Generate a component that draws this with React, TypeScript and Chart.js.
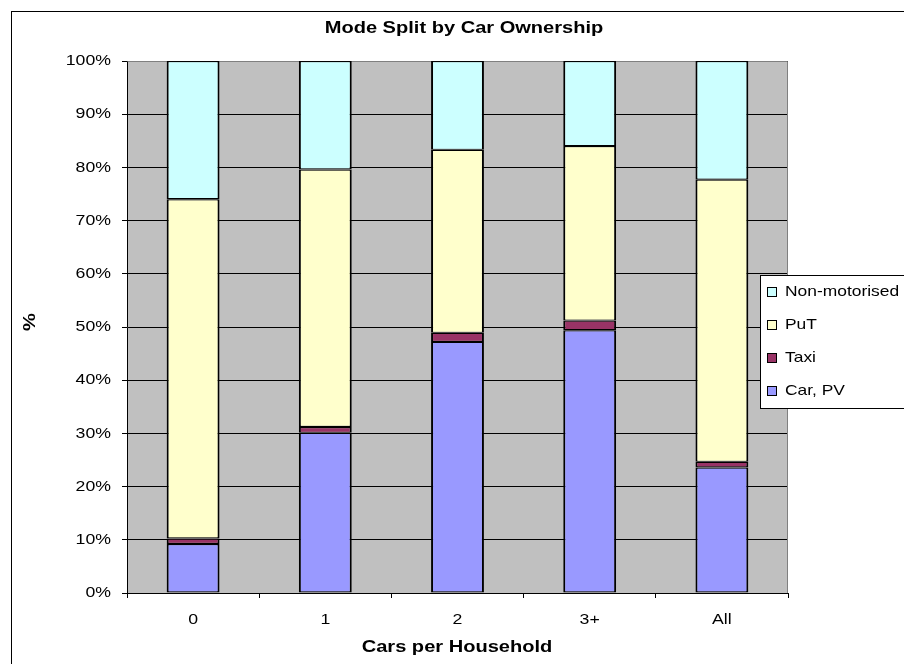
import React, { useEffect, useRef } from 'react';
import { Chart, registerables } from 'chart.js';

Chart.register(...registerables);

const categories = ['0', '1', '2', '3+', 'All'];
const carPV = [9.2, 30.1, 47.2, 49.4, 23.6];
const taxi = [1.05, 1.1, 1.7, 1.8, 1.05];
const puT = [63.75, 48.4, 34.4, 32.8, 53.05];
const nonMotorised = [26.0, 20.4, 16.7, 16.0, 22.3];
const seriesNames = ['Car, PV', 'Taxi', 'PuT', 'Non-motorised'];
const seriesColors = ['#9999FF', '#993366', '#FFFFCC', '#CCFFFF'];
const yTickStep = 10;
const yMax = 100;
const chartTitle = 'Mode Split by Car Ownership';
const xTitle = 'Cars per Household';
const yTitle = '%';

const FONT = '"Liberation Sans", Arial, sans-serif';
const SX = 1.18;

function stretchText(
  ctx: CanvasRenderingContext2D,
  text: string,
  x: number,
  y: number,
  font: string,
  align: CanvasTextAlign,
  rot = 0,
  sx = SX
) {
  ctx.save();
  ctx.translate(x, y);
  if (rot) ctx.rotate(rot);
  ctx.scale(sx, 1);
  ctx.font = font;
  ctx.fillStyle = '#000';
  ctx.textAlign = align;
  ctx.textBaseline = 'middle';
  ctx.fillText(text, 0, 0);
  ctx.restore();
}

const decorPlugin = {
  id: 'decor',
  beforeDraw(chart: any) {
    const { ctx, chartArea: a } = chart;
    ctx.save();
    ctx.fillStyle = '#fff';
    ctx.fillRect(0, 0, chart.width, chart.height);
    ctx.fillStyle = '#C0C0C0';
    ctx.fillRect(a.left, a.top, a.right - a.left, a.bottom - a.top);
    ctx.restore();
  },
  beforeDatasetsDraw(chart: any) {
    const { ctx, chartArea: a } = chart;
    ctx.save();
    ctx.strokeStyle = '#808080';
    ctx.lineWidth = 1;
    ctx.beginPath();
    ctx.moveTo(Math.round(a.left) + 0.5, Math.round(a.top) + 0.5);
    ctx.lineTo(Math.round(a.right) - 0.5, Math.round(a.top) + 0.5);
    ctx.lineTo(Math.round(a.right) - 0.5, Math.round(a.bottom));
    ctx.stroke();
    ctx.restore();
  },
  afterDraw(chart: any) {
    const { ctx } = chart;
    ctx.save();
    ctx.strokeStyle = '#000';
    ctx.lineWidth = 1;
    ctx.strokeRect(11.5, 11.5, 1200, 1200);
    ctx.restore();

    stretchText(ctx, chartTitle, 464, 28, `bold 17px ${FONT}`, 'center');
    stretchText(ctx, xTitle, 457, 647, `bold 17px ${FONT}`, 'center');
    stretchText(ctx, yTitle, 30, 322, `bold 17px ${FONT}`, 'center', -Math.PI / 2);

    const ys = chart.scales.y;
    ys.ticks.forEach((t: any) => {
      const y = ys.getPixelForValue(t.value);
      const label = t.label ?? `${t.value}%`;
      stretchText(ctx, String(label), 111, y, `15px ${FONT}`, 'right');
    });
    const xs = chart.scales.x;
    xs.ticks.forEach((t: any, i: number) => {
      const x = xs.getPixelForTick(i);
      const label = t.label ?? categories[i];
      stretchText(ctx, String(label), x, 620, `15px ${FONT}`, 'center');
    });

    const lx = 760.5;
    const ly = 275.5;
    ctx.save();
    ctx.fillStyle = '#fff';
    ctx.fillRect(lx, ly, 300, 133);
    ctx.strokeStyle = '#000';
    ctx.lineWidth = 1;
    ctx.strokeRect(lx, ly, 300, 133);
    ctx.restore();
    const ds = chart.data.datasets;
    const order = ds.map((_: any, i: number) => i).reverse();
    order.forEach((di: number, row: number) => {
      const cy = 291.5 + row * 33.2;
      ctx.save();
      ctx.fillStyle = ds[di].backgroundColor;
      ctx.fillRect(767.5, Math.round(cy) - 4.5, 9, 9);
      ctx.strokeStyle = '#000';
      ctx.lineWidth = 1;
      ctx.strokeRect(767.5, Math.round(cy) - 4.5, 9, 9);
      ctx.restore();
      stretchText(ctx, ds[di].label, 785, cy, `15px ${FONT}`, 'left', 0, 1.16);
    });
  },
};

export default function App() {
  const ref = useRef<HTMLCanvasElement>(null);
  useEffect(() => {
    const series = [carPV, taxi, puT, nonMotorised];
    const chart = new Chart(ref.current as HTMLCanvasElement, {
      type: 'bar',
      data: {
        labels: categories,
        datasets: series.map((d, i) => ({
          label: seriesNames[i],
          data: d,
          backgroundColor: seriesColors[i],
          borderColor: '#000',
          borderWidth: { top: 1.2, bottom: 1.2, left: 2, right: 2 },
          borderSkipped: false,
          categoryPercentage: 1,
          barPercentage: 0.4,
        })),
      },
      options: {
        animation: false,
        responsive: false,
        devicePixelRatio: 1,
        layout: { padding: { left: 0, right: 116, top: 61, bottom: 0 } },
        plugins: {
          legend: { display: false },
          title: { display: false },
          tooltip: { enabled: false },
        },
        scales: {
          x: {
            stacked: true,
            grid: {
              offset: true,
              drawOnChartArea: false,
              drawTicks: true,
              tickLength: 5,
              color: '#000',
            },
            border: { color: '#000', width: 1 },
            ticks: { display: false },
            afterFit: (s: any) => {
              s.height = 71;
            },
          },
          y: {
            stacked: true,
            min: 0,
            max: yMax,
            grid: { color: '#000', lineWidth: 1, tickLength: 5, drawTicks: true },
            border: { color: '#000', width: 1 },
            ticks: {
              display: false,
              stepSize: yTickStep,
              callback: (v: any) => `${v}%`,
            },
            afterFit: (s: any) => {
              s.width = 127;
            },
          },
        },
      },
      plugins: [decorPlugin],
    } as any);
    return () => chart.destroy();
  }, []);
  return (
    <div
      style={{
        position: 'fixed',
        left: 0,
        top: 0,
        width: 904,
        height: 664,
        overflow: 'hidden',
        background: '#fff',
      }}
    >
      <canvas ref={ref} width={904} height={664} style={{ display: 'block', width: 904, height: 664 }} />
    </div>
  );
}
